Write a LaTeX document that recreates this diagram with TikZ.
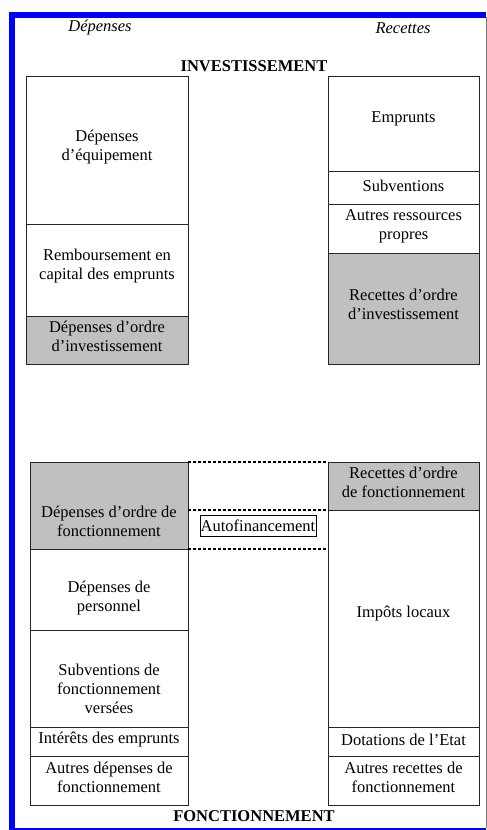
\documentclass[tikz,border=0pt]{standalone}
\usepackage{fontspec}
\setmainfont{Liberation Serif}
\definecolor{cellgray}{RGB}{192,192,192}
\definecolor{framegray}{RGB}{120,120,120}
\begin{document}
\begin{tikzpicture}[x=1pt,y=1pt,
  cell/.style={draw=black!85, line width=0.8pt, inner sep=0pt, outer sep=0pt, anchor=north west},
  gcell/.style={cell, fill=cellgray},
  txt/.style={align=center, inner sep=0pt, font=\fontsize{16.5}{19}\selectfont},
  head/.style={inner sep=0pt, font=\fontsize{16.5}{19}\selectfont\itshape},
  title/.style={inner sep=0pt, font=\fontsize{16.5}{19}\selectfont\bfseries},
  dotline/.style={line width=1.4pt, dash pattern=on 3pt off 2pt},
  autobox/.style={draw=black, line width=0.8pt, inner sep=0pt, outer sep=0pt,
    minimum width=116pt, minimum height=21pt, font=\fontsize{16.5}{19}\selectfont}
]
\useasboundingbox (0,0) rectangle (487,-830);
% frame
\fill[blue] (9,-12) rectangle (486,-17.5);
\fill[blue] (9,-12) rectangle (15,-830);
\fill[blue] (9,-827.5) rectangle (486,-830);
\draw[framegray, line width=1pt] (486,-17) -- (486,-827.5);

% headings
\node[head] (hdep) at (100,-28) {Dépenses};
\node[head] (hrec) at (403,-28) {Recettes};
\node[title] (tinv) at (254,-66) {INVESTISSEMENT};
\node[title] (tfon) at (254,-816) {FONCTIONNEMENT};

% investissement - depenses
\node[cell, minimum width=162, minimum height=148] (equip) at (26,-76) {};
\node[cell, minimum width=162, minimum height=92] (remb) at (26,-224) {};
\node[gcell, minimum width=162, minimum height=48] (ordinv) at (26,-316) {};
\node[txt] (tequip) at (107,-147) {Dépenses\\d’équipement};
\node[txt] (tremb) at (107,-266) {Remboursement en\\capital des emprunts};
\node[txt] (tordinv) at (107,-336) {Dépenses d’ordre\\d’investissement};

% investissement - recettes
\node[cell, minimum width=151, minimum height=95] (empr) at (328,-76) {};
\node[cell, minimum width=151, minimum height=33] (subv) at (328,-171) {};
\node[cell, minimum width=151, minimum height=49] (autres) at (328,-204) {};
\node[gcell, minimum width=151, minimum height=111] (recinv) at (328,-253) {};
\node[txt] (tempr) at (403.5,-119) {Emprunts};
\node[txt] (tsubv) at (403.5,-186) {Subventions};
\node[txt] (tautres) at (403.5,-226) {Autres ressources\\propres};
\node[txt] (trecinv) at (403.5,-304) {Recettes d’ordre\\d’investissement};

% fonctionnement - depenses
\node[gcell, minimum width=158, minimum height=87] (ordfon) at (30,-462) {};
\node[cell, minimum width=158, minimum height=81] (pers) at (30,-549) {};
\node[cell, minimum width=158, minimum height=97] (subfon) at (30,-630) {};
\node[cell, minimum width=158, minimum height=29] (inter) at (30,-727) {};
\node[cell, minimum width=158, minimum height=49] (autdep) at (30,-756) {};
\node[txt] (tordfon) at (109,-521) {Dépenses d’ordre de\\fonctionnement};
\node[txt] (tpers) at (109,-598) {Dépenses de\\personnel};
\node[txt] (tsubfon) at (109,-689) {Subventions de\\fonctionnement\\versées};
\node[txt] (tinter) at (109,-740) {Intérêts des emprunts};
\node[txt] (tautdep) at (109,-777) {Autres dépenses de\\fonctionnement};

% fonctionnement - recettes
\node[gcell, minimum width=151, minimum height=48] (recfon) at (328,-462) {};
\node[cell, minimum width=151, minimum height=217] (impots) at (328,-510) {};
\node[cell, minimum width=151, minimum height=29] (dot) at (328,-727) {};
\node[cell, minimum width=151, minimum height=49] (autrec) at (328,-756) {};
\node[txt] (trecfon) at (403.5,-482) {Recettes d’ordre\\de fonctionnement};
\node[txt] (timpots) at (403.5,-614) {Impôts locaux};
\node[txt] (tdot) at (403.5,-740) {Dotations de l’Etat};
\node[txt] (tautrec) at (403.5,-777) {Autres recettes de\\fonctionnement};

% autofinancement
\node[autobox] (auto) at (258,-525.5) {Autofinancement};
\draw[dotline] (ordfon.north east) -- (recfon.north west);
\draw[dotline] (ordfon.east |- recfon.south west) -- (recfon.south west);
\draw[dotline] (ordfon.south east) -- (impots.west |- ordfon.south east);
\end{tikzpicture}
\end{document}
